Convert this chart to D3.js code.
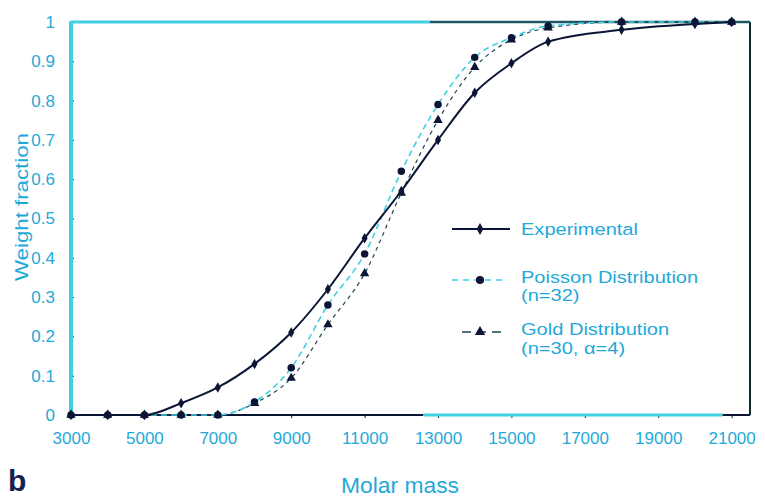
<!DOCTYPE html>
<html>
<head>
<meta charset="utf-8">
<script src="https://cdn.jsdelivr.net/npm/d3@7/dist/d3.min.js"></script>
<style>
  html, body { margin: 0; padding: 0; background: #ffffff; }
  svg { display: block; }
  text { font-family: "Liberation Sans", Arial, sans-serif; }
</style>
</head>
<body>
<svg id="chart" width="765" height="497"></svg>
<script>
// Molar mass sampling points (g/mol)
const molarMass = [3000, 4000, 5000, 6000, 7000, 8000, 9000, 10000, 11000, 12000, 13000, 14000, 15000, 16000, 18000, 20000, 21000];

// Cumulative weight fraction per series
const experimental = [0, 0, 0, 0.03, 0.07, 0.13, 0.21, 0.32, 0.45, 0.57, 0.70, 0.82, 0.895, 0.95, 0.98, 0.995, 1.0];
const poisson      = [0, 0, 0, 0, 0, 0.033, 0.12, 0.28, 0.41, 0.62, 0.79, 0.91, 0.96, 0.99, 1.0, 1.0, 1.0];
const gold         = [0, 0, 0, 0, 0, 0.03, 0.094, 0.23, 0.36, 0.565, 0.75, 0.885, 0.955, 0.985, 1.0, 1.0, 1.0];

// Axis tick labels
const xTicks = [3000, 5000, 7000, 9000, 11000, 13000, 15000, 17000, 19000, 21000];
const yTicks = [0, 0.1, 0.2, 0.3, 0.4, 0.5, 0.6, 0.7, 0.8, 0.9, 1];
const yTickLabels = ["0", "0.1", "0.2", "0.3", "0.4", "0.5", "0.6", "0.7", "0.8", "0.9", "1"];

// Legend entries
const legendNames = [["Experimental"], ["Poisson Distribution", "(n=32)"], ["Gold Distribution", "(n=30, \u03b1=4)"]];

const svg = d3.select("#chart");
const CYAN = "#3fd0e2";
const DARK = "#0b1535";
const GOLD_LINE = "#1d4656";
const TEXT = "#1fa9d9";

const x = d3.scaleLinear().domain([3000, 21500]).range([71, 750]);
const y = d3.scaleLinear().domain([0, 1]).range([415, 22]);

// Axes: ticks and labels
const xAxis = svg.append("g")
  .attr("transform", `translate(0,${y(0)})`)
  .call(d3.axisBottom(x).tickValues(xTicks).tickSize(3).tickPadding(26).tickFormat(d3.format("d")));
xAxis.select(".domain").remove();
xAxis.selectAll(".tick line").attr("stroke", DARK);
xAxis.selectAll(".tick text").attr("fill", TEXT).attr("dy", null)
  .style("font-size", "17px");

const yAxis = svg.append("g")
  .attr("transform", `translate(${x(3000)},0)`)
  .call(d3.axisLeft(y).tickValues(yTicks).tickSize(-3).tickPadding(16)
    .tickFormat((d, i) => yTickLabels[i]));
yAxis.select(".domain").remove();
yAxis.selectAll(".tick line").attr("stroke", DARK);
yAxis.selectAll(".tick text").attr("fill", TEXT).style("font-size", "17px");

// Plot frame
const x0 = x.range()[0], x1 = x.range()[1], y0 = y(0), y1 = y(1);
const frame = svg.append("g").attr("fill", "none");
frame.append("line").attr("x1", x1).attr("x2", x1).attr("y1", y1).attr("y2", y0).attr("stroke", "#0e2a30").attr("stroke-width", 2);
frame.append("line").attr("x1", x(13000) - 8).attr("x2", x1).attr("y1", y1).attr("y2", y1).attr("stroke", "#1a5866").attr("stroke-width", 2.5);
frame.append("line").attr("x1", x0).attr("x2", x(13000) - 8).attr("y1", y1).attr("y2", y1).attr("stroke", CYAN).attr("stroke-width", 3);
frame.append("line").attr("x1", x0).attr("x2", x(12600)).attr("y1", y0).attr("y2", y0).attr("stroke", DARK).attr("stroke-width", 2);
frame.append("line").attr("x1", x(12600)).attr("x2", x(20750)).attr("y1", y0).attr("y2", y0).attr("stroke", CYAN).attr("stroke-width", 3);
frame.append("line").attr("x1", x(20750)).attr("x2", x1).attr("y1", y0).attr("y2", y0).attr("stroke", DARK).attr("stroke-width", 2);
frame.append("line").attr("x1", x0).attr("x2", x0).attr("y1", y1 - 1).attr("y2", y0).attr("stroke", CYAN).attr("stroke-width", 4);

// Series
const series = [
  { values: gold, color: GOLD_LINE, dash: "4,4", width: 1.2, marker: "triangle" },
  { values: poisson, color: CYAN, dash: "6,4", width: 1.6, marker: "circle" },
  { values: experimental, color: DARK, dash: null, width: 2, marker: "diamond" }
];

const line = d3.line().curve(d3.curveMonotoneX);
const symbols = { triangle: d3.symbolTriangle, circle: d3.symbolCircle, diamond: d3.symbolDiamond };
const symbolSize = { triangle: 38, circle: 44, diamond: 32 };

series.forEach(s => {
  const pts = molarMass.map((m, i) => [x(m), y(s.values[i])]);
  svg.append("path")
    .attr("d", line(pts))
    .attr("fill", "none")
    .attr("stroke", s.color)
    .attr("stroke-width", s.width)
    .attr("stroke-dasharray", s.dash);
  svg.append("g").selectAll("path")
    .data(pts)
    .join("path")
    .attr("transform", d => `translate(${d[0]},${d[1]})`)
    .attr("d", d3.symbol(symbols[s.marker], symbolSize[s.marker]))
    .attr("fill", DARK);
});

// Legend
const legendRows = [
  { y: 229, x1: 452, x2: 510, color: DARK, dash: null, width: 2.2, marker: "diamond", base: [235] },
  { y: 280, x1: 452, x2: 502, color: CYAN, dash: "6,5", width: 1.6, marker: "circle", base: [283, 301] },
  { y: 332, x1: 462, x2: 503, color: GOLD_LINE, dash: "9,6", width: 1.3, marker: "triangle", base: [335, 354] }
];
const legend = svg.append("g");
legendRows.forEach((r, i) => {
  legend.append("line").attr("x1", r.x1).attr("x2", r.x2).attr("y1", r.y).attr("y2", r.y)
    .attr("stroke", r.color).attr("stroke-width", r.width).attr("stroke-dasharray", r.dash);
  legend.append("path").attr("transform", `translate(480,${r.y})`)
    .attr("d", d3.symbol(symbols[r.marker], symbolSize[r.marker] + 8)).attr("fill", DARK);
  legendNames[i].forEach((t, k) => {
    legend.append("g").attr("transform", `translate(521,${r.base[k]}) scale(1.18,1)`)
      .append("text").attr("fill", TEXT).style("font-size", "17px").text(t);
  });
});

// Axis titles
svg.append("text").attr("x", 400).attr("y", 493).attr("text-anchor", "middle")
  .attr("fill", TEXT).style("font-size", "22px")
  .attr("textLength", 118).attr("lengthAdjust", "spacingAndGlyphs").text("Molar mass");
svg.append("text").attr("transform", "translate(28,207) rotate(-90)").attr("text-anchor", "middle")
  .attr("fill", TEXT).style("font-size", "19px")
  .attr("textLength", 148).attr("lengthAdjust", "spacingAndGlyphs").text("Weight fraction");

// Panel letter
svg.append("text").attr("x", 8).attr("y", 491).attr("fill", "#13224f")
  .style("font-size", "30px").style("font-weight", "bold").text("b");
</script>
</body>
</html>
